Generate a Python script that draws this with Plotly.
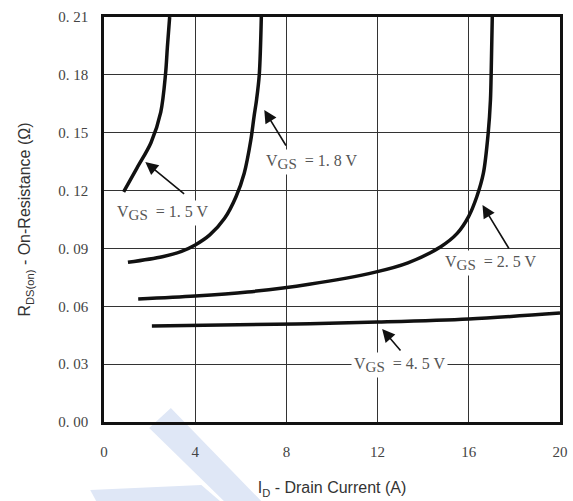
import plotly.graph_objects as go

# Data
vgs15_x = [0.86, 1.45, 2.06, 2.49, 2.70, 2.78, 2.88]
vgs15_y = [0.1193, 0.1318, 0.1448, 0.1607, 0.1806, 0.1944, 0.2100]

vgs18_x = [1.05, 2.56, 3.4, 4.0, 4.64, 5.29, 5.79, 6.15, 6.44, 6.58, 6.69, 6.81, 6.90]
vgs18_y = [0.0828, 0.0857, 0.0885, 0.0918, 0.0970, 0.1056, 0.1168, 0.1290, 0.1462, 0.1583, 0.1670, 0.1800, 0.2100]

vgs25_x = [1.5, 4.0, 6.3, 9.0, 11.9, 13.33, 14.77, 15.49, 15.99, 16.35, 16.64, 16.85, 16.95, 16.98, 17.03]
vgs25_y = [0.0638, 0.0653, 0.0674, 0.0714, 0.0777, 0.0825, 0.0909, 0.0978, 0.1065, 0.1168, 0.1290, 0.1497, 0.1670, 0.1800, 0.2100]

vgs45_x = [2.1, 8.4, 12.0, 16.0, 20.0]
vgs45_y = [0.0498, 0.0508, 0.0518, 0.0534, 0.0565]

x_ticks = [0, 4, 8, 12, 16, 20]
x_ticktext = ["0", "4", "8", "12", "16", "20"]
y_ticks = [0.00, 0.03, 0.06, 0.09, 0.12, 0.15, 0.18, 0.21]
y_ticktext = ["0. 00", "0. 03", "0. 06", "0. 09", "0. 12", "0. 15", "0. 18", "0. 21"]

GS = "<sub><span style='font-size:15px'>GS</span></sub>"
labels = ["V" + GS + "  = 1. 5 V", "V" + GS + "  = 1. 8 V", "V" + GS + "  = 2. 5 V", "V" + GS + "  = 4. 5 V"]
label_x = [2.56, 9.09, 16.94, 12.97]
label_y = [0.1084, 0.1348, 0.0824, 0.0296]
arrow_tip_x = [1.81, 7.03, 16.6, 12.2]
arrow_tip_y = [0.1348, 0.1618, 0.1125, 0.0482]
arrow_tail_x = [3.58, 8.02, 17.8, 13.06]
arrow_tail_y = [0.1177, 0.1426, 0.0892, 0.0363]

SERIF = "Liberation Serif"

fig = go.Figure()
for xs, ys in [(vgs15_x, vgs15_y), (vgs18_x, vgs18_y), (vgs25_x, vgs25_y), (vgs45_x, vgs45_y)]:
    fig.add_trace(go.Scatter(x=xs, y=ys, mode="lines",
                             line=dict(color="#111111", width=3.5, shape="spline", smoothing=0.9),
                             showlegend=False, hoverinfo="skip"))

annotations = []
for i in range(4):
    annotations.append(dict(x=arrow_tip_x[i], y=arrow_tip_y[i], ax=arrow_tail_x[i], ay=arrow_tail_y[i],
                            xref="x", yref="y", axref="x", ayref="y", text="", showarrow=True,
                            arrowhead=2, arrowsize=1.6, arrowwidth=1.6, arrowcolor="#111111"))
    annotations.append(dict(x=label_x[i], y=label_y[i], xref="x", yref="y", text=labels[i],
                            showarrow=False, bgcolor="white", borderpad=2,
                            font=dict(family=SERIF, size=16, color="#555555")))

# light watermark shapes (paper coords)
def px2paper(px, py):
    return (px - 104) / 464.0, (422 - py) / 405.0

def poly(points):
    pts = [px2paper(a, b) for a, b in points]
    return "M " + " L ".join(f"{a:.4f},{b:.4f}" for a, b in pts) + " Z"

shapes = [
    dict(type="path", xref="paper", yref="paper", layer="below",
         path=poly([(150, 428), (172, 408), (264, 501), (226, 501)]),
         fillcolor="#dfe7f6", line=dict(width=0)),
    dict(type="path", xref="paper", yref="paper", layer="below",
         path=poly([(90, 490), (203, 485), (222, 501), (96, 501)]),
         fillcolor="#dfe7f6", line=dict(width=0)),
]

fig.update_layout(
    width=573, height=501,
    margin=dict(l=104, r=5, t=17, b=79),
    paper_bgcolor="white", plot_bgcolor="rgba(0,0,0,0)",
    annotations=annotations, shapes=shapes,
    xaxis=dict(range=[0, 20], tickvals=x_ticks, ticktext=x_ticktext,
               showgrid=True, gridcolor="#333333", gridwidth=1,
               showline=True, linecolor="#111111", linewidth=2.5, mirror=True,
               zeroline=False, ticks="", ticklabelstandoff=14,
               tickfont=dict(family=SERIF, size=15, color="#444444"),
               title=dict(text="I<sub>D</sub> - Drain Current (A)", standoff=24,
                          font=dict(family="Liberation Sans", size=16, color="#333333"))),
    yaxis=dict(range=[0, 0.21], tickvals=y_ticks, ticktext=y_ticktext,
               showgrid=True, gridcolor="#333333", gridwidth=1,
               showline=True, linecolor="#111111", linewidth=2.5, mirror=True,
               zeroline=False, ticks="", ticklabelstandoff=10,
               tickfont=dict(family=SERIF, size=15, color="#444444"),
               title=dict(text="R<sub>DS(on)</sub> - On-Resistance (Ω)", standoff=24,
                          font=dict(family="Liberation Sans", size=16, color="#333333"))),
)

fig.write_html("out.html")
